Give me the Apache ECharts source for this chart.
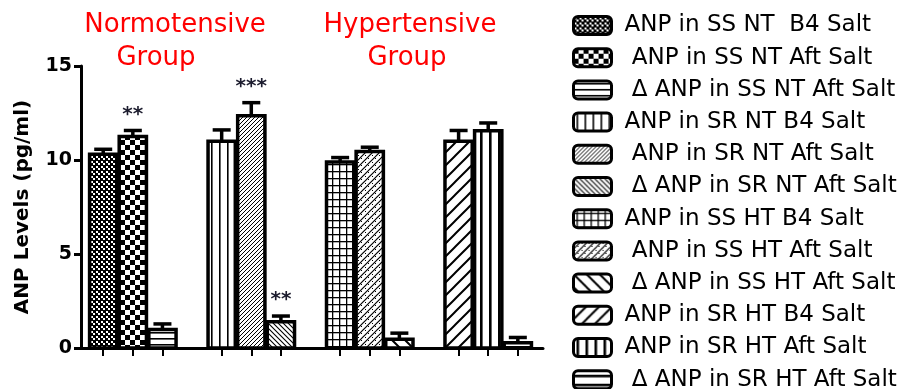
<!DOCTYPE html>
<html>
<head>
<meta charset="utf-8">
<script src="https://cdn.jsdelivr.net/npm/echarts@6/dist/echarts.min.js"></script>
<style>html,body{margin:0;padding:0;background:#fff}#c{width:899px;height:389px}</style>
</head>
<body>
<div id="c"></div>
<script>
// ---- data ----
const seriesNames = [
  'ANP in SS NT  B4 Salt',
  ' ANP in SS NT Aft Salt',
  ' \u0394 ANP in SS NT Aft Salt',
  'ANP in SR NT B4 Salt',
  ' ANP in SR NT Aft Salt',
  ' \u0394 ANP in SR NT Aft Salt',
  'ANP in SS HT B4 Salt',
  ' ANP in SS HT Aft Salt',
  ' \u0394 ANP in SS HT Aft Salt',
  'ANP in SR HT B4 Salt',
  'ANP in SR HT Aft Salt',
  ' \u0394 ANP in SR HT Aft Salt'
];
const xPositions = [0, 1, 2, 4, 5, 6, 8, 9, 10, 12, 13, 14];
const meanValues = [10.3, 11.25, 0.98, 11.0, 12.35, 1.4, 9.9, 10.45, 0.47, 11.0, 11.55, 0.28];
const semValues  = [0.27, 0.32, 0.3, 0.6, 0.7, 0.3, 0.23, 0.23, 0.32, 0.57, 0.42, 0.28];
const starLabels = ['', '**', '', '', '***', '**', '', '', '', '', '', ''];
const yTicks = [0, 5, 10, 15];
const groupTitleLines = ['Normotensive', 'Group', 'Hypertensive', 'Group'];

// ---- patterns ----
function canvasOf(w, h, draw) {
  const c = document.createElement('canvas');
  c.width = w; c.height = h;
  const g = c.getContext('2d');
  g.fillStyle = '#fff'; g.fillRect(0, 0, w, h);
  g.fillStyle = '#000'; g.strokeStyle = '#000';
  draw(g, w, h);
  return { image: c, repeat: 'repeat' };
}
function diag(g, s, lw, back) {
  g.lineWidth = lw;
  g.beginPath();
  for (let k = -1; k <= 1; k++) {
    if (!back) { g.moveTo(k * s - 1, s + 1); g.lineTo(k * s + s + 1, -1); }
    else { g.moveTo(k * s - 1, -1); g.lineTo(k * s + s + 1, s + 1); }
  }
  g.stroke();
}
const patterns = [
  canvasOf(5, 5, g => { g.fillRect(0, 0, 5, 5); g.fillStyle = '#fff'; g.fillRect(1, 1, 2, 2); g.fillRect(3, 3, 2, 2); }),
  canvasOf(10, 10, g => { g.fillRect(0, 0, 5, 5); g.fillRect(5, 5, 5, 5); }),
  canvasOf(6, 6, g => { g.fillRect(0, 2, 6, 1.6); }),
  canvasOf(8, 8, g => { g.fillRect(3, 0, 1.6, 8); }),
  canvasOf(4, 4, g => diag(g, 4, 1, false)),
  canvasOf(5, 5, g => diag(g, 5, 1.1, true)),
  canvasOf(7, 7, g => { g.fillRect(0, 3, 7, 1.3); g.fillRect(3, 0, 1.3, 7); }),
  canvasOf(7, 7, g => { diag(g, 7, 1.2, false); g.fillRect(1, 1, 1, 1); g.fillRect(4, 4, 1, 1); }),
  canvasOf(13, 13, g => diag(g, 13, 2, true)),
  canvasOf(13, 13, g => diag(g, 13, 2, false)),
  canvasOf(9, 9, g => { g.fillRect(3, 0, 2.6, 9); }),
  canvasOf(9, 9, g => { g.fillRect(0, 4, 9, 2.6); })
];

const chart = echarts.init(document.getElementById('c'));
const FONT = 'DejaVu Sans';

function renderBar(params, api) {
  const x = api.value(0), m = api.value(1);
  const base = api.coord([x, 0]);
  const top = api.coord([x, m]);
  const w = api.size([0.92, 0])[0];
  return {
    type: 'rect',
    shape: { x: base[0] - w / 2, y: top[1], width: w, height: base[1] - top[1] },
    style: api.style()
  };
}

const barSeries = seriesNames.map((n, i) => ({
  type: 'custom',
  name: n,
  renderItem: renderBar,
  data: [[xPositions[i], meanValues[i]]],
  itemStyle: { color: patterns[i], borderColor: '#000', borderWidth: 3.5 },
  emphasis: { disabled: true },
  z: 2
}));

const errData = xPositions.map((x, i) => [x, meanValues[i], semValues[i]]);

const errSeries = {
  type: 'custom',
  name: 'err',
  data: errData,
  z: 5,
  renderItem: function (params, api) {
    const x = api.value(0), m = api.value(1), e = api.value(2);
    const p0 = api.coord([x, m]);
    const p1 = api.coord([x, m + e]);
    const children = [
      { type: 'line', shape: { x1: p0[0], y1: p0[1], x2: p1[0], y2: p1[1] }, style: { stroke: '#000', lineWidth: 3.5 } },
      { type: 'line', shape: { x1: p1[0] - 9, y1: p1[1], x2: p1[0] + 9, y2: p1[1] }, style: { stroke: '#000', lineWidth: 3.5 } }
    ];
    const s = starLabels[params.dataIndex];
    if (s) {
      children.push({
        type: 'text',
        style: { text: s, x: p1[0], y: p1[1] - 6, align: 'center', verticalAlign: 'bottom',
                 font: 'bold 20px "DejaVu Sans"', fill: '#1c1c2e' }
      });
    }
    return { type: 'group', children: children };
  }
};

const titleStyle = { color: '#ff0000', fontSize: 26, fontWeight: 'normal', fontFamily: FONT, lineHeight: 32 };
const titlePos = [[175, 9], [156, 42], [410, 9], [407, 42]];

chart.setOption({
  animation: false,
  backgroundColor: '#fff',
  title: groupTitleLines.map((t, i) => ({
    text: t, left: titlePos[i][0], top: titlePos[i][1], textAlign: 'center', padding: 0,
    textStyle: titleStyle
  })),
  legend: {
    data: seriesNames,
    orient: 'vertical',
    left: 567,
    top: 9,
    height: 380,
    itemWidth: 38,
    itemHeight: 18,
    itemGap: 9.2,
    icon: 'roundRect',
    selectedMode: false,
    itemStyle: { borderColor: '#000', borderWidth: 3 },
    textStyle: { fontFamily: FONT, fontSize: 23, color: '#000', lineHeight: 23, padding: [0, 0, 0, 8] }
  },
  grid: { left: 81, top: 66, width: 462, height: 282, outerBoundsMode: 'none', containLabel: false },
  xAxis: {
    type: 'value',
    min: -0.75,
    max: 14.85,
    splitLine: { show: false },
    axisLine: { onZero: false, lineStyle: { color: '#000', width: 3 } },
    axisTick: { show: true, customValues: xPositions, length: 8, lineStyle: { color: '#000', width: 2 } },
    axisLabel: { show: false }
  },
  yAxis: {
    type: 'value',
    min: 0,
    max: 15,
    interval: 5,
    name: 'ANP Levels (pg/ml)',
    nameLocation: 'middle',
    nameGap: 48,
    nameTextStyle: { fontFamily: FONT, fontSize: 20, fontWeight: 'bold', color: '#000' },
    splitLine: { show: false },
    axisLine: { show: true, onZero: false, lineStyle: { color: '#000', width: 3 } },
    axisTick: { show: true, length: 7, lineStyle: { color: '#000', width: 3 } },
    axisLabel: { fontFamily: FONT, fontSize: 19, fontWeight: 'bold', color: '#000', margin: 9,
                 customValues: yTicks }
  },
  series: barSeries.concat([errSeries])
});
</script>
</body>
</html>
